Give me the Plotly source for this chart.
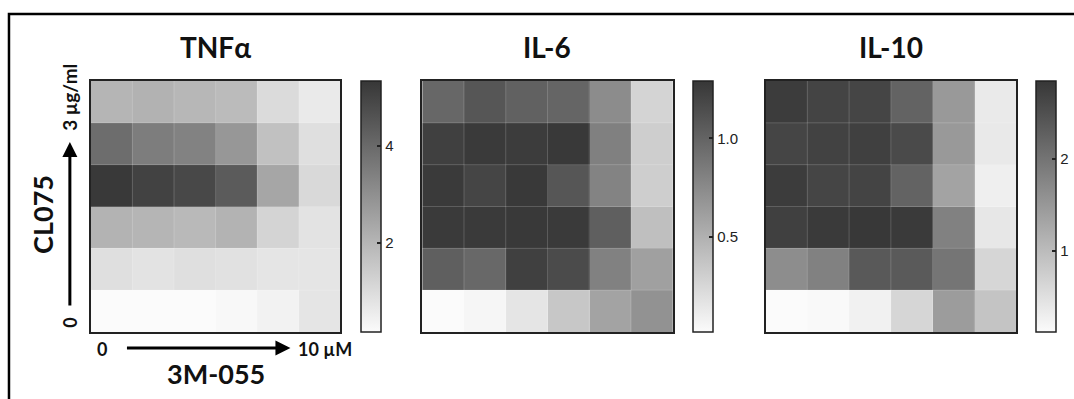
import plotly.graph_objects as go

W, H = 1074, 399

# Data (rows from top = 3 µg/ml CL075 to bottom = 0; columns 0 -> 10 µM 3M-055)
cols = [0, 1, 2, 3, 4, 5]
rows = [0, 1, 2, 3, 4, 5]

tnfa = [
    [2.00, 2.10, 1.95, 1.85, 1.00, 0.60],
    [3.90, 3.50, 3.35, 2.80, 1.70, 0.90],
    [5.30, 5.05, 4.90, 4.40, 2.40, 1.05],
    [2.05, 2.00, 1.90, 2.05, 1.20, 0.80],
    [0.90, 0.80, 0.90, 0.85, 0.75, 0.75],
    [0.05, 0.10, 0.15, 0.25, 0.40, 0.75],
]
il6 = [
    [0.98, 1.09, 1.02, 0.99, 0.74, 0.27],
    [1.23, 1.27, 1.26, 1.28, 0.82, 0.31],
    [1.27, 1.20, 1.28, 1.09, 0.80, 0.31],
    [1.27, 1.27, 1.28, 1.27, 1.03, 0.41],
    [1.03, 0.97, 1.23, 1.16, 0.81, 0.61],
    [0.00, 0.05, 0.16, 0.36, 0.59, 0.70],
]
il10 = [
    [2.78, 2.67, 2.65, 2.24, 1.48, 0.35],
    [2.65, 2.70, 2.72, 2.58, 1.48, 0.37],
    [2.78, 2.65, 2.67, 2.24, 1.34, 0.29],
    [2.72, 2.81, 2.84, 2.81, 1.82, 0.40],
    [1.65, 1.82, 2.38, 2.36, 1.99, 0.63],
    [0.05, 0.15, 0.26, 0.63, 1.45, 0.88],
]
titles = ["TNFα", "IL-6", "IL-10"]
zranges = [(0.16, 5.34), (0.02, 1.29), (0.12, 2.85)]
cb_ticks = [[2, 4], [0.5, 1.0], [1, 2]]
cb_fmt = ["d", ".1f", "d"]

def px(x):
    return x / W

def py(y):
    return 1 - y / H

hm_x = [(91, 341), (423, 674), (767, 1018)]
cb_x = [362, 694, 1038]
cb_w = 20
top, bot = 81, 332

colorscale = [[0, "#fbfbfb"], [1, "#373737"]]

fig = go.Figure()
shapes = []
datas = [tnfa, il6, il10]
for i, z in enumerate(datas):
    sfx = "" if i == 0 else str(i + 1)
    fig.add_trace(go.Heatmap(
        z=z, x=cols, y=rows,
        xaxis="x" + sfx, yaxis="y" + sfx,
        colorscale=colorscale,
        zmin=zranges[i][0], zmax=zranges[i][1],
        hoverinfo="skip",
        colorbar=dict(
            x=px(cb_x[i]), xanchor="left", xpad=0, ypad=0,
            y=py(top), yanchor="top",
            len=bot - top, lenmode="pixels",
            thickness=cb_w, thicknessmode="pixels",
            outlinewidth=1.5, outlinecolor="#222",
            tickvals=cb_ticks[i], tickformat=cb_fmt[i], tickprefix="\u00a0",
            ticks="inside", ticklen=4, tickwidth=1.5, tickcolor="#222",
            tickfont=dict(family="Liberation Sans", size=15, color="#222"),
        ),
    ))
    fig.update_layout(**{
        "xaxis" + sfx: dict(domain=[px(hm_x[i][0]), px(hm_x[i][1])], anchor="y" + sfx,
                            showticklabels=False, ticks="", showgrid=False, zeroline=False,
                            showline=True, mirror=True, linecolor="#222", linewidth=2,
                            range=[-0.5, 5.5]),
        "yaxis" + sfx: dict(domain=[py(bot), py(top)], anchor="x" + sfx,
                            showticklabels=False, ticks="", showgrid=False, zeroline=False,
                            showline=True, mirror=True, linecolor="#222", linewidth=2,
                            range=[5.5, -0.5]),
    })
    # faint light separators between cells
    xr, yr = "x" + sfx, "y" + sfx
    sep = dict(color="rgba(255,255,255,0.18)", width=1)
    for k in range(len(cols) - 1):
        b = (cols[k] + cols[k + 1]) / 2
        shapes.append(dict(type="line", xref=xr, yref=yr, x0=b, x1=b, y0=-0.5, y1=5.5,
                           line=sep, layer="above"))
    for k in range(len(rows) - 1):
        b = (rows[k] + rows[k + 1]) / 2
        shapes.append(dict(type="line", xref=xr, yref=yr, y0=b, y1=b, x0=-0.5, x1=5.5,
                           line=sep, layer="above"))
    # inside ticks on the left edge of the colour bar
    zmin, zmax = zranges[i]
    for v in cb_ticks[i]:
        yy = py(bot) + (v - zmin) / (zmax - zmin) * (py(top) - py(bot))
        shapes.append(dict(type="line", xref="paper", yref="paper",
                           x0=px(cb_x[i] + 0.5), x1=px(cb_x[i] + 4.5), y0=yy, y1=yy,
                           line=dict(color="#222", width=1.5)))

bold = dict(family="Lato", weight="bold", color="#111")
ann = []
for i, t in enumerate(titles):
    cx = (hm_x[i][0] + hm_x[i][1]) / 2
    ann.append(dict(text=t, x=px(cx), y=py(47), font=dict(size=28, **bold)))
# axis labels on first panel
ann += [
    dict(text="CL075", x=px(42), y=py(214), textangle=-90, font=dict(size=27, **bold)),
    dict(text="3 µg/ml", x=px(70), y=py(97), textangle=-90, font=dict(size=19, **bold)),
    dict(text="0", x=px(70), y=py(323), textangle=-90, font=dict(size=18, **bold)),
    dict(text="0", x=px(102), y=py(349), font=dict(size=18, **bold)),
    dict(text="10 µM", x=px(326), y=py(349), font=dict(size=18, **bold)),
    dict(text="3M-055", x=px(216), y=py(373), font=dict(size=27, **bold)),
]
for a in ann:
    a.setdefault("xref", "paper")
    a.setdefault("yref", "paper")
    a.setdefault("showarrow", False)
    a.setdefault("xanchor", "center")
    a.setdefault("yanchor", "middle")
# arrows
ann += [
    dict(x=px(70), y=py(142), ax=0, ay=165, xref="paper", yref="paper",
         axref="pixel", ayref="pixel", showarrow=True, arrowhead=2, arrowsize=1,
         arrowwidth=3, arrowcolor="#000", text=""),
    dict(x=px(291), y=py(348), ax=-165, ay=0, xref="paper", yref="paper",
         axref="pixel", ayref="pixel", showarrow=True, arrowhead=2, arrowsize=1,
         arrowwidth=3, arrowcolor="#000", text=""),
]

shapes.append(dict(type="rect", xref="paper", yref="paper",
                   x0=px(9), y0=py(420), x1=px(1090), y1=py(14),
                   line=dict(color="#000", width=2.5)))

fig.update_layout(
    width=W, height=H,
    margin=dict(l=0, r=0, t=0, b=0),
    paper_bgcolor="white", plot_bgcolor="white",
    showlegend=False,
    annotations=ann,
    shapes=shapes,
)

fig.write_html("out.html")
